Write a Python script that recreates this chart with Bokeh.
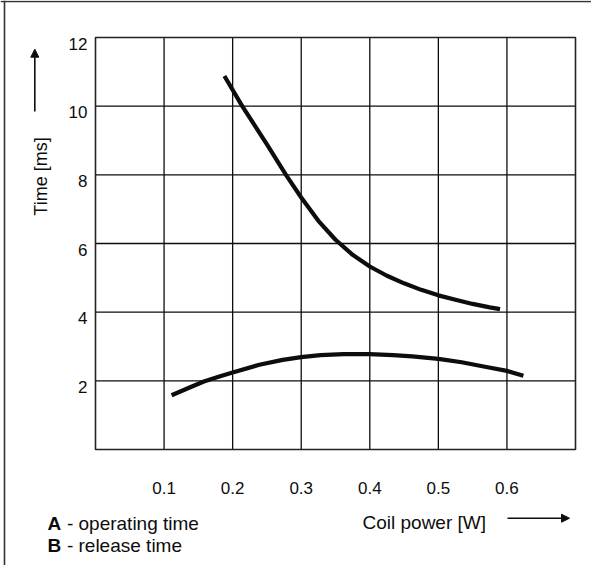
import math
from bokeh.plotting import figure
from bokeh.models import Label, Arrow, NormalHead, Range1d, Span
from bokeh.core.properties import value
from bokeh.embed import file_html
from bokeh.resources import INLINE

# ---- data ----
power_a = [0.188, 0.214, 0.25, 0.278, 0.30, 0.325, 0.35, 0.375, 0.40, 0.425, 0.45,
           0.475, 0.50, 0.525, 0.55, 0.575, 0.590]
time_a = [10.88, 10.0, 8.89, 7.99, 7.34, 6.66, 6.11, 5.67, 5.33, 5.06, 4.84,
          4.65, 4.49, 4.36, 4.24, 4.14, 4.09]

power_b = [0.111, 0.139, 0.158, 0.183, 0.20, 0.239, 0.273, 0.30, 0.328, 0.362, 0.40,
           0.434, 0.462, 0.50, 0.534, 0.568, 0.60, 0.624]
time_b = [1.58, 1.82, 1.98, 2.14, 2.24, 2.47, 2.61, 2.69, 2.75, 2.78, 2.78,
          2.75, 2.71, 2.64, 2.54, 2.41, 2.29, 2.15]

x_ticks = [0.1, 0.2, 0.3, 0.4, 0.5, 0.6]
x_tick_labels = ["0.1", "0.2", "0.3", "0.4", "0.5", "0.6"]
y_ticks = [2, 4, 6, 8, 10, 12]
y_tick_labels = ["2", "4", "6", "8", "10", "12"]
x_lim = [0.0, 0.7]
y_lim = [0.0, 12.0]

# ---- layout (pixels) ----
W, H = 591, 565            # canvas; page offset 8px
BOX_L, BOX_R = 95, 575     # inner chart box in canvas px
BOX_T, BOX_B = 37, 449
px_x = (x_lim[1] - x_lim[0]) / (BOX_R - BOX_L)
px_y = (y_lim[1] - y_lim[0]) / (BOX_B - BOX_T)

def dx(cx):   # canvas px -> data x
    return x_lim[0] + (cx - BOX_L) * px_x

def dy(cy):   # canvas px (from top) -> data y
    return y_lim[0] + (BOX_B - cy) * px_y

FONT = "Liberation Sans"
INK = "#0d0d0d"

p = figure(width=W, height=H, output_backend="svg", toolbar_location=None,
           x_range=Range1d(dx(0), dx(W)), y_range=Range1d(dy(H), dy(0)),
           x_axis_type=None, y_axis_type=None,
           min_border_left=0, min_border_right=0, min_border_top=0, min_border_bottom=0)
p.grid.visible = False
p.outline_line_color = None

# outer frame (left & top edges visible in the reference)
p.add_layout(Span(location=dx(4), dimension="height", line_color="#333333", line_width=1.6))
p.add_layout(Span(location=dy(1), dimension="width", line_color="#333333", line_width=1.6))

# grid lines from tick values
vx = x_ticks
p.segment(x0=vx, y0=[y_lim[0]] * len(vx), x1=vx, y1=[y_lim[1]] * len(vx),
          line_color=INK, line_width=1.3)
hy = y_ticks[:-1]
p.segment(x0=[x_lim[0]] * len(hy), y0=hy, x1=[x_lim[1]] * len(hy), y1=hy,
          line_color=INK, line_width=1.3)
# chart box
p.quad(left=[x_lim[0]], right=[x_lim[1]], bottom=[y_lim[0]], top=[y_lim[1]],
       fill_color=None, line_color="#222222", line_width=1.6)

# tick labels
TICK_FS = 17
p.text(x=x_ticks, y=[dy(BOX_B + 38)] * len(x_ticks), text=x_tick_labels,
       text_align="center", text_baseline="alphabetic",
       text_font=value(FONT), text_font_size=value(f"{TICK_FS}px"), text_color=INK)
p.text(x=[dx(BOX_L - 8)] * len(y_ticks), y=[t - 0.358 * TICK_FS * px_y for t in y_ticks],
       text=y_tick_labels, text_align="right", text_baseline="alphabetic",
       text_font=value(FONT), text_font_size=value(f"{TICK_FS}px"), text_color=INK)

# curves
p.line(power_a, time_a, line_color=INK, line_width=4.2, line_join="round")
p.line(power_b, time_b, line_color=INK, line_width=4.2, line_join="round")

# axis titles and arrows
p.add_layout(Label(x=dx(40), y=dy(176), text="Time [ms]", angle=math.pi / 2,
                   text_align="center", text_baseline="alphabetic",
                   text_font=FONT, text_font_size="18px", text_color=INK))
p.add_layout(Arrow(x_start=dx(34.3), y_start=dy(111), x_end=dx(34.3), y_end=dy(48.7),
                   line_color=INK, line_width=1.6,
                   end=NormalHead(size=8, fill_color=INK, line_color=INK)))

p.add_layout(Label(x=dx(362), y=dy(522), text="Coil power [W]",
                   text_align="left", text_baseline="alphabetic",
                   text_font=FONT, text_font_size="19px", text_color=INK))
p.add_layout(Arrow(x_start=dx(507), y_start=dy(517.7), x_end=dx(569), y_end=dy(517.7),
                   line_color=INK, line_width=1.6,
                   end=NormalHead(size=8, fill_color=INK, line_color=INK)))

# legend texts
for key, desc, base in (("A", "- operating time", 523), ("B", "- release time", 545.3)):
    p.add_layout(Label(x=dx(47), y=dy(base), text=key, text_font_style="bold",
                       text_baseline="alphabetic", text_font=FONT, text_font_size="19px",
                       text_color=INK))
    p.add_layout(Label(x=dx(66.4), y=dy(base), text=desc,
                       text_baseline="alphabetic", text_font=FONT, text_font_size="19px",
                       text_color=INK))

open("out.html", "w").write(file_html(p, INLINE))
